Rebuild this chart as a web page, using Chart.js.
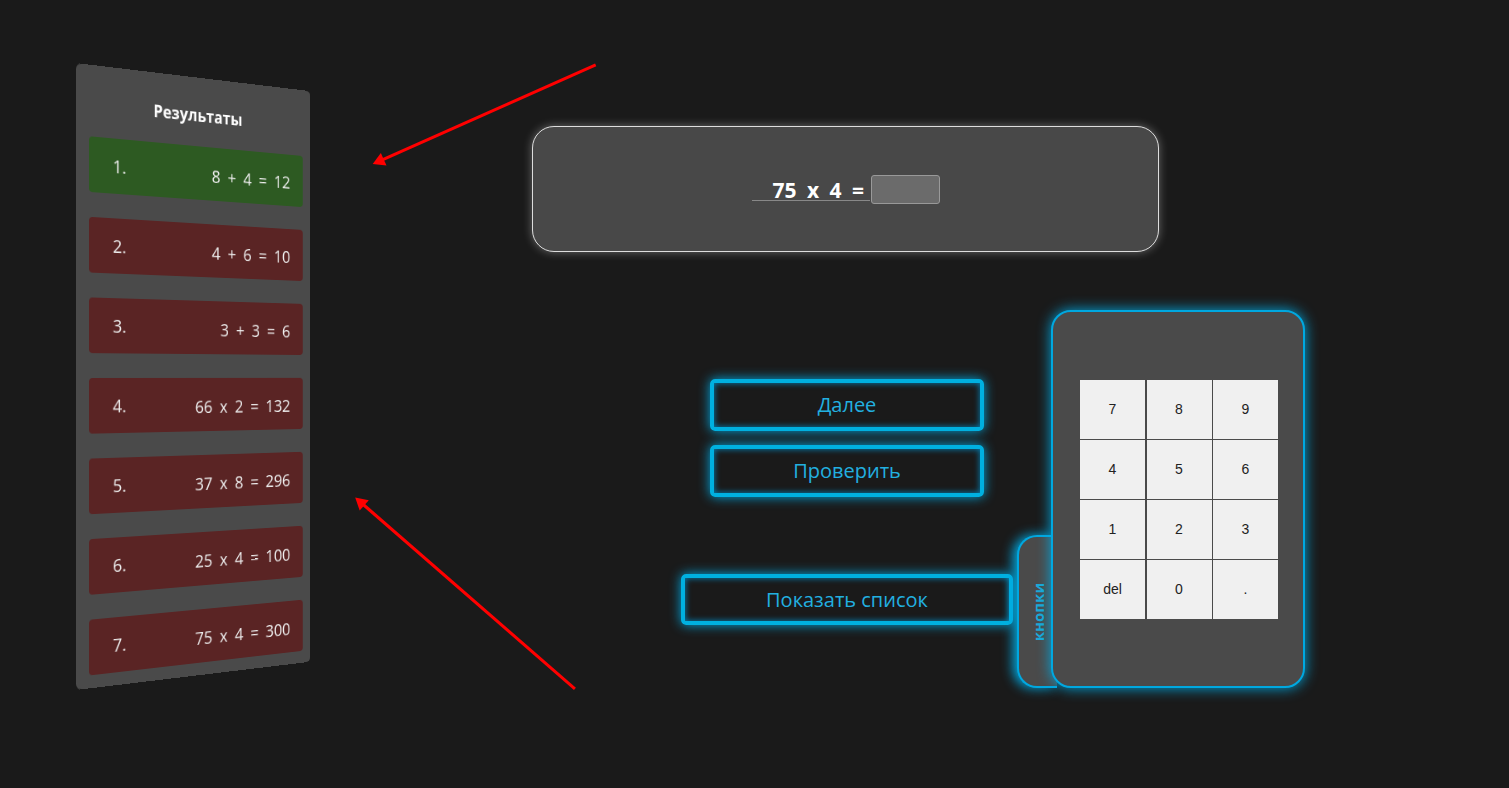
<!DOCTYPE html>
<html><head><meta charset="utf-8">
<script src="https://cdn.jsdelivr.net/npm/chart.js@4"></script>
<style>
html,body{margin:0;padding:0;background:#1a1a1a;width:1509px;height:788px;overflow:hidden;font-family:"Open Sans",sans-serif}
#wrap{position:absolute;left:76px;top:0;width:400px;height:788px;perspective:1000px;perspective-origin:0 376px}
#panel{position:absolute;left:0;top:63px;width:276px;height:627px;background:#4a4a4a;border-radius:6px;transform-origin:0 50%;transform:rotateY(21deg)}
#panel h3{margin:0;position:absolute;top:28px;width:100%;text-align:center;color:#fff;font-size:17px;font-weight:700}
.it{position:absolute;left:14px;width:252px;height:56px;border-radius:4px;color:#eee;font-size:18px}
.it .n{position:absolute;left:26px;top:16px}
.it .e{position:absolute;right:16px;top:18px;word-spacing:4px}
.box{position:absolute;left:532px;top:126px;width:625px;height:124px;background:#484848;border:1px solid #ddd;border-radius:22px;box-shadow:0 0 10px rgba(255,255,255,.35)}
.q{position:absolute;left:752px;top:176px;width:118px;height:25px;border-bottom:1px solid #888;color:#fff;font-weight:700;font-size:21px;line-height:28px;text-align:right;padding-right:6px;box-sizing:border-box;word-spacing:5px}
.inp{position:absolute;left:871px;top:175px;width:67px;height:27px;background:#6b6b6b;border:1px solid #999;border-radius:3px}
.btn{position:absolute;border:4px solid #00b0e0;border-radius:5px;color:#22b0e0;font-size:20px;text-align:center;box-shadow:0 0 12px #00a8e0,inset 0 0 6px #0088c0;box-sizing:border-box}
.kp{position:absolute;left:1051px;top:310px;width:254px;height:378px;background:#4a4a4a;border:2px solid #00a8e0;border-radius:20px;box-sizing:border-box;box-shadow:0 0 14px #00a8e0}
.tab{position:absolute;left:1017px;top:535px;width:40px;height:153px;background:#4a4a4a;border:2px solid #00a8e0;border-right:none;border-radius:20px 0 0 20px;box-sizing:border-box;box-shadow:-4px 0 12px #00a8e0}
.tab span{position:absolute;left:50%;top:50%;transform:translate(-50%,-50%) rotate(-90deg);color:#1aa8d8;font-weight:700;font-size:15px;white-space:nowrap}
.k{position:absolute;width:65px;height:59px;background:#f0f0f0;color:#222;font-family:Arial,"Liberation Sans",sans-serif;font-size:14px;text-align:center;line-height:59px}
#c{position:absolute;left:0;top:0;pointer-events:none}
</style></head><body>
<div id="wrap"><div id="panel"><h3>Результаты</h3></div></div>
<div class="box"></div>
<div class="q">75 x 4 =</div><div class="inp"></div>
<div class="btn" style="left:710px;top:379px;width:274px;height:52px;line-height:44px">Далее</div>
<div class="btn" style="left:710px;top:445px;width:274px;height:52px;line-height:44px">Проверить</div>
<div class="btn" style="left:681px;top:574px;width:332px;height:51px;line-height:43px">Показать список</div>
<div class="tab"><span>кнопки</span></div>
<div class="kp"></div>
<div id="keys"></div>
<canvas id="c" width="1509" height="788"></canvas>
<script>
const resultNums=["1.","2.","3.","4.","5.","6.","7."];
const resultExprs=["8 + 4 = 12","4 + 6 = 10","3 + 3 = 6","66 x 2 = 132","37 x 8 = 296","25 x 4 = 100","75 x 4 = 300"];
const resultOk=[true,false,false,false,false,false,false];
const keyLabels=["7","8","9","4","5","6","1","2","3","del","0","."];
const arrow1X=[594,376], arrow1Y=[58,156];
const arrow2X=[573,357], arrow2Y=[695,505];

const panel=document.getElementById('panel');
resultNums.forEach((n,i)=>{
  const d=document.createElement('div');d.className='it';
  d.style.top=(72+i*81)+'px';d.style.background=resultOk[i]?'#2d5a22':'#5a2424';
  d.innerHTML='<span class="n">'+n+'</span><span class="e">'+resultExprs[i]+'</span>';
  panel.appendChild(d);
});
const keys=document.getElementById('keys');
keyLabels.forEach((l,i)=>{
  const d=document.createElement('div');d.className='k';
  d.style.left=(1080+(i%3)*66.5)+'px';d.style.top=(380+Math.floor(i/3)*60)+'px';
  d.textContent=l;keys.appendChild(d);
});
const pts=(xs,ys)=>xs.map((x,i)=>({x,y:ys[i]}));
const ds=(xs,ys,rot)=>({data:pts(xs,ys),showLine:true,borderColor:'#ff0000',backgroundColor:'#ff0000',borderWidth:3,
  pointStyle:'triangle',pointRadius:[0,8],rotation:[0,rot],pointBorderWidth:0});
new Chart(document.getElementById('c'),{type:'scatter',
  data:{datasets:[ds(arrow1X,arrow1Y,246),ds(arrow2X,arrow2Y,311)]},
  options:{responsive:false,animation:false,layout:{padding:0},
    plugins:{legend:{display:false},tooltip:{enabled:false}},
    scales:{x:{display:false,min:0,max:1509},y:{display:false,min:0,max:788,reverse:true}}}});
</script>
</body></html>
